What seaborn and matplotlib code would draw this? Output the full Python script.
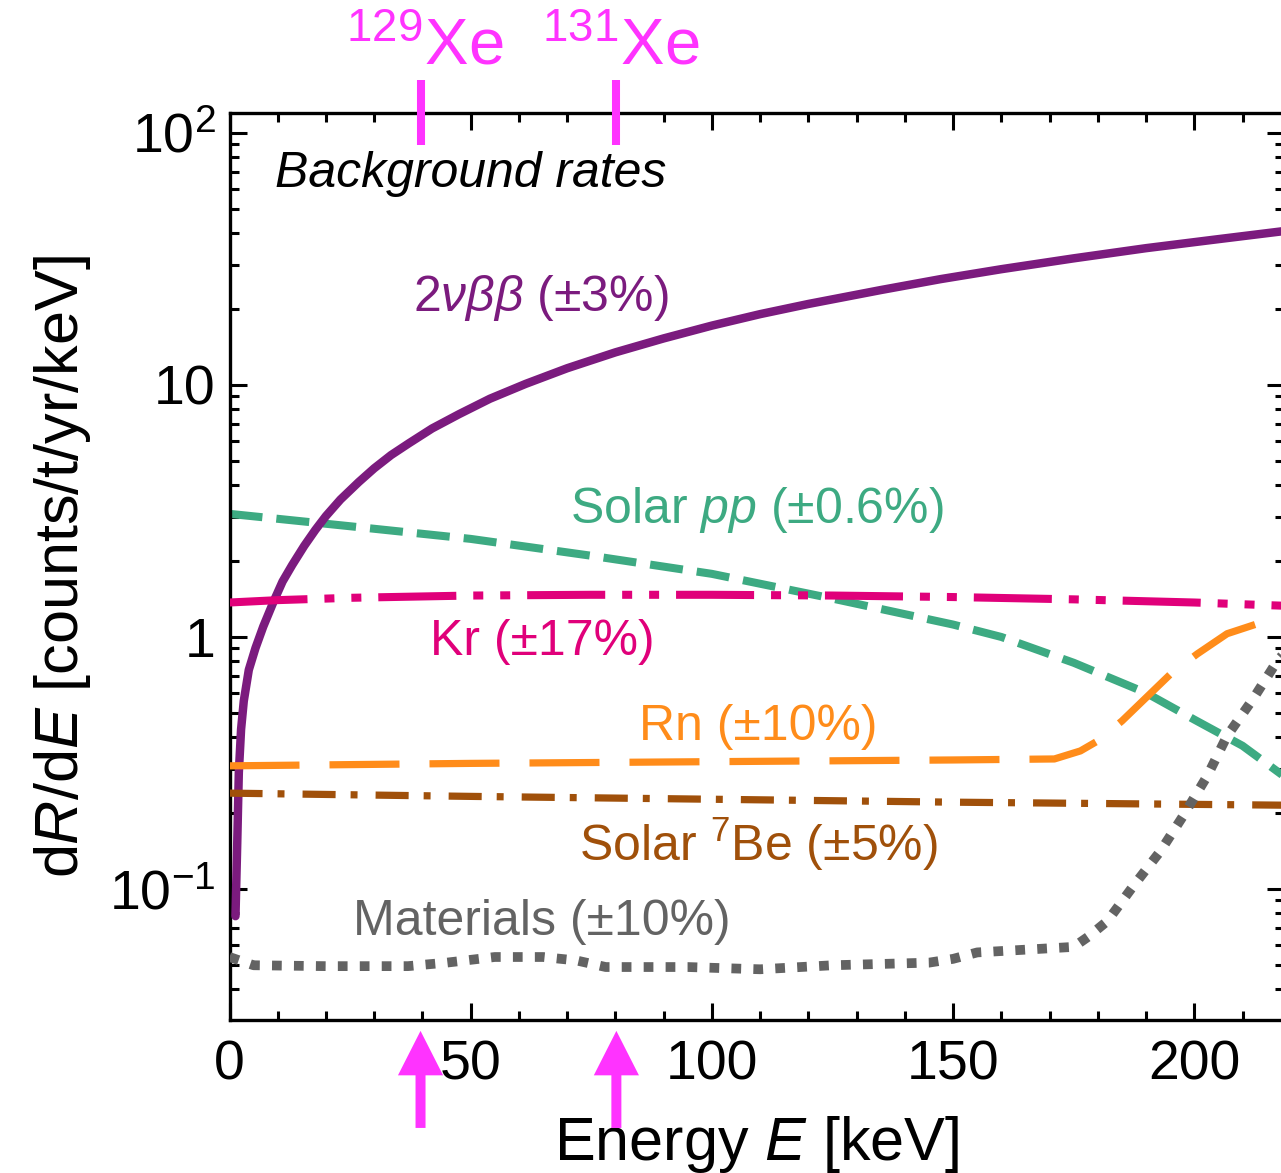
import numpy as np
import pandas as pd
import matplotlib
matplotlib.use("Agg")
import matplotlib.pyplot as plt
import matplotlib.transforms as mtransforms
from matplotlib.ticker import LogLocator, NullFormatter, MultipleLocator
import seaborn as sns

# ---------------- data ----------------
E_2nbb = [1.24, 1.6, 1.93, 2.4, 2.96, 4.0, 5.39, 7.0, 9.2, 11.0, 13.0, 15.5, 17.8, 20.0, 23.0, 26.8,
          30.0, 33.5, 37.2, 42.0, 47.6, 54.0, 61.4, 70.0, 80.0, 90.0, 100.0, 110.0, 120.0, 135.0,
          147.4, 160.0, 175.0, 190.0, 205.0, 218.6]
R_2nbb = [0.078, 0.151, 0.289, 0.43, 0.557, 0.74, 0.904, 1.10, 1.39, 1.66, 1.93, 2.30, 2.66, 3.02, 3.51, 4.12,
          4.67, 5.27, 5.87, 6.72, 7.66, 8.82, 10.1, 11.65, 13.47, 15.3, 17.2, 19.1, 20.96, 23.8,
          26.3, 28.8, 31.8, 34.9, 37.9, 40.8]

E_pp = [0, 25, 50, 75, 100, 125, 150, 160, 175, 190, 200, 210, 218.6]
R_pp = [3.08, 2.75, 2.45, 2.1, 1.78, 1.42, 1.12, 1.0, 0.79, 0.60, 0.47, 0.37, 0.28]

E_kr = [0, 10, 25, 50, 75, 100, 125, 150, 175, 200, 218.6]
R_kr = [1.37, 1.40, 1.43, 1.46, 1.47, 1.47, 1.46, 1.44, 1.41, 1.37, 1.33]

E_rn = [0, 50, 100, 150, 171, 176.4, 180, 185, 195, 200.6, 206.8, 213.2]
R_rn = [0.308, 0.315, 0.32, 0.325, 0.328, 0.353, 0.387, 0.464, 0.71, 0.856, 1.03, 1.13]

E_be = [0, 50, 100, 150, 218.6]
R_be = [0.24, 0.233, 0.227, 0.221, 0.215]

E_mat = [0, 5, 20, 37, 45, 55, 65, 72, 78, 95, 110, 125, 145, 150, 155, 160, 175, 178, 182, 187.4, 193, 197.7, 202.7, 206.8, 212.2, 217.2, 218.6]
R_mat = [0.0537, 0.0498, 0.0494, 0.0494, 0.051, 0.0537, 0.0537, 0.052, 0.049, 0.049, 0.048, 0.0498, 0.051, 0.0528, 0.056, 0.0567, 0.0589, 0.0646, 0.0746, 0.103, 0.1415, 0.195, 0.281, 0.405, 0.568, 0.803, 0.86]

xe_lines = [39.6, 80.2]
xe_labels = [r"$^{129}$Xe", r"$^{131}$Xe"]

x_ticks = [0, 50, 100, 150, 200]
y_ticks = [0.1, 1, 10, 100]
y_ticklabels = [r"$10^{-1}$", "1", "10", r"$10^{2}$"]

# ---------------- style ----------------
sns.set_style("ticks")
plt.rcParams["font.family"] = ["Liberation Sans", "DejaVu Sans"]
plt.rcParams["mathtext.fontset"] = "custom"
plt.rcParams["mathtext.rm"] = "Liberation Sans"
plt.rcParams["mathtext.it"] = "Liberation Sans:italic"
plt.rcParams["mathtext.bf"] = "Liberation Sans:bold"
plt.rcParams["lines.scale_dashes"] = False
for k in ["text.color", "axes.labelcolor", "xtick.color", "ytick.color", "axes.edgecolor"]:
    plt.rcParams[k] = "black"

C_2nbb = "#7B1B7E"
C_pp = "#3DAA82"
C_kr = "#E0007A"
C_rn = "#FF8C1A"
C_be = "#A0500A"
C_mat = "#636363"
C_xe = "#FF33FF"

fig = plt.figure(figsize=(12.81, 11.73), dpi=100)
ax = fig.add_axes([229.5 / 1281, (1173 - 1020) / 1173, (1284 - 229.5) / 1281, (1020 - 113) / 1173])

LW = 5.8

def draw(E, R, color, ls, lw, z):
    df = pd.DataFrame({"E": E, "R": R})
    sns.lineplot(data=df, x="E", y="R", color=color, linewidth=lw, ax=ax, zorder=z,
                 estimator=None, sort=True)
    ln = ax.lines[-1]
    ln.set_linestyle(ls)
    ln.set_dash_capstyle("butt")
    ln.set_solid_joinstyle("round")
    return ln

draw(E_pp, R_pp, C_pp, (0, (23.8, 10.1)), LW, 2)
draw(E_2nbb, R_2nbb, C_2nbb, "-", 6.1, 3)
draw(E_kr, R_kr, C_kr, (0, (56.2, 12.2, 7.2, 12.2, 7.2, 12.2)), LW, 4)
draw(E_be, R_be, C_be, (0, (23.8, 10.8, 5.0, 13.0)), 5.2, 4)
draw(E_rn, R_rn, C_rn, (0, (50.4, 21.6)), 5.2, 5)
draw(E_mat, R_mat, C_mat, (0, (7.0, 8.8)), 7.0, 6)

ax.set_yscale("log")
ax.set_xlim(0, 218.6)
ax.set_ylim(0.0302, 120)

ax.set_xticks(x_ticks)
ax.xaxis.set_minor_locator(MultipleLocator(10))
ax.set_yticks(y_ticks, labels=y_ticklabels)
ax.yaxis.set_minor_locator(LogLocator(base=10, subs=np.arange(2, 10)))
ax.yaxis.set_minor_formatter(NullFormatter())

ax.tick_params(which="both", direction="in", top=True, right=True, width=2.2, colors="black")
ax.tick_params(which="major", length=12)
ax.tick_params(which="minor", length=6.5)
ax.tick_params(axis="x", which="major", labelsize=40, pad=14)
ax.tick_params(axis="y", which="major", labelsize=40, pad=10)
for s in ax.spines.values():
    s.set_linewidth(2.4)
    s.set_color("black")

ax.set_xlabel(r"Energy $E$ [keV]", fontsize=44, color="black")
ax.set_ylabel(r"d$R$/d$E$ [counts/t/yr/keV]", fontsize=44, color="black")
ax.xaxis.set_label_coords(0.5, -0.104)
ax.yaxis.set_label_coords(-0.129, 0.5)

# texts
ax.text(0.0436, 0.918, "Background rates", transform=ax.transAxes, fontsize=36,
        style="italic", ha="left", va="baseline", color="black")
fs = 36
ax.text(64.5, 19.7, r"2$\it{\nu\beta\beta}$ (±3%)", color=C_2nbb, fontsize=fs, ha="center", va="baseline")
ax.text(109.4, 2.835, r"Solar $\it{pp}$ (±0.6%)", color=C_pp, fontsize=fs, ha="center", va="baseline")
ax.text(64.9, 0.848, "Kr (±17%)", color=C_kr, fontsize=fs, ha="center", va="baseline")
ax.text(109.6, 0.390, "Rn (±10%)", color=C_rn, fontsize=fs, ha="center", va="baseline")
ax.text(109.6, 0.129, r"Solar $^{7}$Be (±5%)", color=C_be, fontsize=fs, ha="center", va="baseline")
ax.text(64.7, 0.0657, "Materials (±10%)", color=C_mat, fontsize=fs, ha="center", va="baseline")

# Xe markers
blend = mtransforms.blended_transform_factory(ax.transData, ax.transAxes)
for xv, lab in zip(xe_lines, xe_labels):
    ax.plot([xv, xv], [0.9647, 1.0364], transform=blend, clip_on=False, color=C_xe,
            lw=5.8, solid_capstyle="butt", zorder=10)
    ax.text(xv + 0.8, 1.053, lab, transform=blend, color=C_xe, fontsize=47,
            ha="center", va="baseline", clip_on=False)
    ax.annotate("", xy=(xv, -0.012), xycoords=blend, xytext=(xv, -0.119), textcoords=blend,
                arrowprops=dict(arrowstyle="simple,head_length=3.2,head_width=3.25,tail_width=0.72",
                                mutation_scale=10, lw=0, color=C_xe,
                                shrinkA=0, shrinkB=0),
                annotation_clip=False, zorder=10)

fig.savefig("out.png", dpi=100)
